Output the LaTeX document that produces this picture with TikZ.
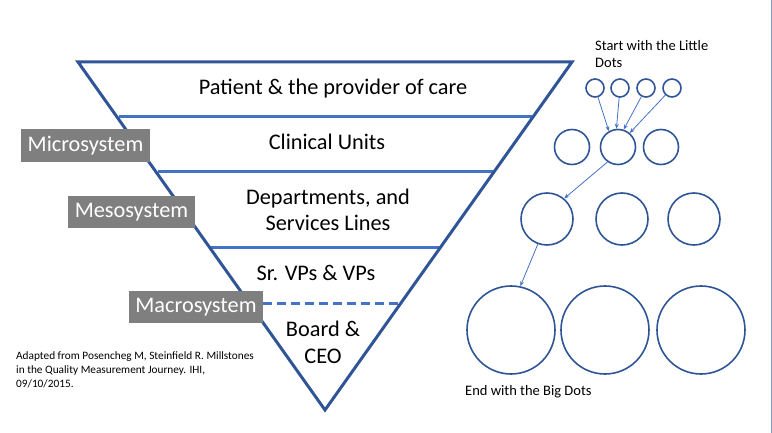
\documentclass[tikz,border=0pt]{standalone}
\usepackage{fontspec}
\setmainfont{Carlito}
\usetikzlibrary{arrows.meta}
\definecolor{dkblue}{HTML}{2F5597}
\definecolor{ltblue}{HTML}{4472C4}
\definecolor{boxgray}{HTML}{7F7F7F}
\definecolor{edgeblue}{HTML}{7FA0CF}
\begin{document}
\begin{tikzpicture}[x=1pt,y=-1pt,
  tri/.style={draw=dkblue,line width=3pt,line join=miter},
  tier/.style={draw=ltblue,line width=3pt},
  tiertxt/.style={font=\fontsize{22.3}{26.5}\selectfont,align=center,inner sep=0pt},
  sysbox/.style={fill=boxgray,text=white,font=\fontsize{22.3}{26}\selectfont,inner sep=0pt,anchor=center},
  dot/.style={circle,draw=dkblue,line width=1.6pt,inner sep=0pt},
  link/.style={draw=ltblue,line width=0.8pt,-{Stealth[length=5pt,width=4pt]}},
  note/.style={font=\fontsize{14.5}{17}\selectfont,align=left,inner sep=0pt},
  citenote/.style={font=\fontsize{11.3}{14.3}\selectfont,align=left,inner sep=0pt}
]
\useasboundingbox (0,0) rectangle (772,433);
\draw[edgeblue,line width=1pt] (771,0) -- (771,433);
% triangle
\coordinate (TL) at (78,62);
\coordinate (TR) at (572,62);
\coordinate (B) at (325,410);
% tier lines
\draw[tier] (118.5,117) -- (531.5,117);
\draw[tier] (157.5,172) -- (492.5,172);
\draw[tier] (211,248) -- (439,248);
\draw[tier,dashed,dash pattern=on 9pt off 5pt] (263,303) -- (400,303);
\draw[tri] (TL) -- (TR) -- (B) -- cycle;
% tier texts
\node[tiertxt] (t1) at (333,89) {Patient \& the provider of care};
\node[tiertxt] (t2) at (327,142) {Clinical Units};
\node[tiertxt] (t3) at (328,210) {Departments, and\\Services Lines};
\node[tiertxt] (t4) at (316,273) {Sr. VPs \& VPs};
\node[tiertxt] (t5) at (323,342.5) {Board \&\\CEO};
% system boxes
\node[sysbox,minimum width=129pt,minimum height=33pt] (micro) at (85.5,145.5) {Microsystem};
\node[sysbox,minimum width=127pt,minimum height=32pt] (meso) at (131.5,212) {Mesosystem};
\node[sysbox,minimum width=134pt,minimum height=32pt] (macro) at (196,307) {Macrosystem};
% citation
\node[citenote,anchor=north west] (cite) at (16,351) {Adapted from Posencheg M, Steinfield R. Millstones\\in the Quality Measurement Journey. IHI,\\09/10/2015.};
% dots
\node[note,anchor=north west] (start) at (595,40) {Start with the Little\\Dots};
\node[dot,minimum size=18pt] (s1) at (595,88) {};
\node[dot,minimum size=18pt] (s2) at (620,88) {};
\node[dot,minimum size=18pt] (s3) at (646,88) {};
\node[dot,minimum size=18pt] (s4) at (672,88) {};
\node[dot,minimum size=35pt] (m1) at (572,147) {};
\node[dot,minimum size=35pt] (m2) at (618,147) {};
\node[dot,minimum size=35pt] (m3) at (661,147) {};
\node[dot,minimum size=52pt] (l1) at (547,219) {};
\node[dot,minimum size=52pt] (l2) at (622,219) {};
\node[dot,minimum size=52pt] (l3) at (694,219) {};
\node[dot,minimum size=88pt] (b1) at (511,330) {};
\node[dot,minimum size=88pt] (b2) at (605,330) {};
\node[dot,minimum size=88pt] (b3) at (701,330) {};
\node[note,anchor=north west] (endt) at (465,385) {End with the Big Dots};
% arrows
\draw[link] (s1) -- (m2.120);
\draw[link] (s2) -- (m2.95);
\draw[link] (s3) -- (m2.72);
\draw[link] (s4) -- (m2.50);
\draw[link] (m2.235) -- (l1.50);
\draw[link] (l1.250) -- (b1.78);
\end{tikzpicture}
\end{document}
